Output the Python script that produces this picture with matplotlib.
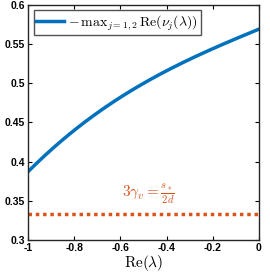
import numpy as np
import matplotlib.pyplot as plt

plt.rcParams['mathtext.fontset'] = 'cm'

# curve
re_lam = [-1.0, -0.869, -0.724, -0.58, -0.436, -0.291, -0.147, 0.0]
neg_max_re_nu = [0.387, 0.4235, 0.4574, 0.485, 0.5106, 0.532, 0.551, 0.569]
gamma_level = 0.3333

blue = '#0072BD'
orange = '#D95319'

fig = plt.figure(figsize=(2.7, 2.73), dpi=100)
ax = fig.add_axes([0.104, 0.121, 0.855, 0.861])

xs = np.linspace(-1, 0, 200)
# smooth curve through the read points
coef = np.polyfit(re_lam, neg_max_re_nu, 3)
ax.plot(xs, np.polyval(coef, xs), color=blue, lw=2.5,
        label=r'$-\,\mathrm{max}_{j=1,2}\,\mathrm{Re}(\nu_j(\lambda))$')
ax.axhline(gamma_level, color=orange, lw=2.5, ls=(0, (1, 1.1)))
ax.text(-0.48, 0.343, r'$3\gamma_v = \frac{s_*}{2d}$', color=orange,
        fontsize=11, ha='center', va='bottom')

ax.set_xlim(-1, 0)
ax.set_ylim(0.3, 0.6)
ax.set_xticks([-1, -0.8, -0.6, -0.4, -0.2, 0])
ax.set_xticklabels(['-1', '-0.8', '-0.6', '-0.4', '-0.2', '0'])
ax.set_yticks([0.3, 0.35, 0.4, 0.45, 0.5, 0.55, 0.6])
ax.set_yticklabels(['0.3', '0.35', '0.4', '0.45', '0.5', '0.55', '0.6'])
ax.tick_params(direction='in', length=3, width=0.8, top=True, right=True,
               labelsize=7.5, pad=2)
for lab in ax.get_xticklabels() + ax.get_yticklabels():
    lab.set_fontweight('bold')
    lab.set_family('Liberation Sans')
for sp in ax.spines.values():
    sp.set_linewidth(1.0)
    sp.set_color('#262626')

ax.set_xlabel(r'$\mathrm{Re}(\lambda)$', fontsize=11, labelpad=0)

leg = ax.legend(loc='upper left', fontsize=10, frameon=True, fancybox=False,
                edgecolor='#262626', handlelength=2.0, borderpad=0.2,
                handletextpad=0.3, borderaxespad=0.4)
leg.get_frame().set_linewidth(1.0)

fig.savefig('out.png', dpi=100)
